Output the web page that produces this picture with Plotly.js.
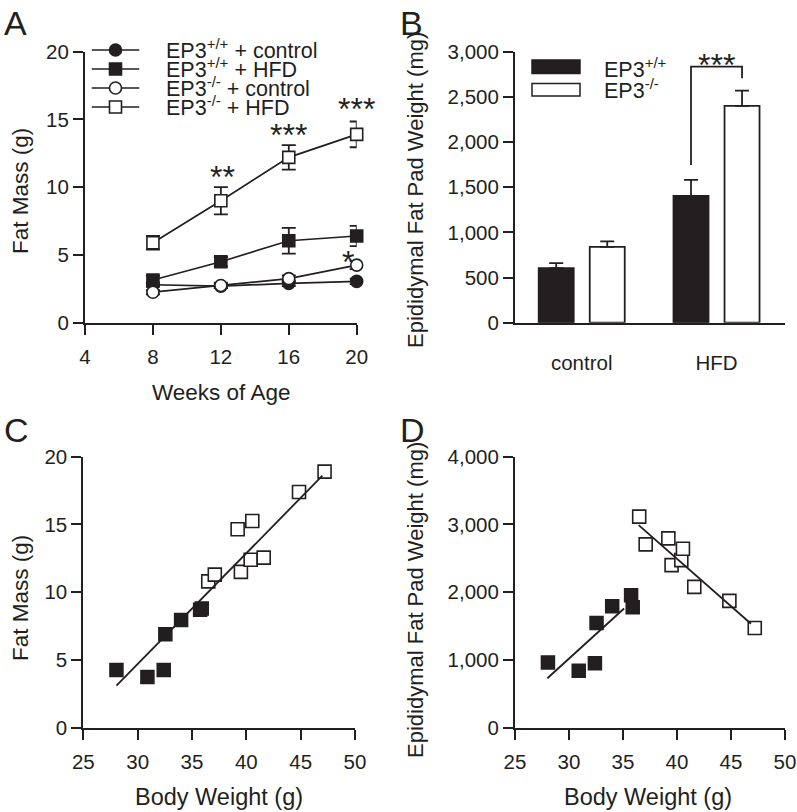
<!DOCTYPE html>
<html>
<head>
<meta charset="utf-8">
<script src="https://cdn.plot.ly/plotly-3.0.1.min.js"></script>
<style>html,body{margin:0;padding:0;background:#fff;}#chart{width:797px;height:812px;}</style>
</head>
<body>
<div id="chart"></div>
<script>
// ---------- DATA ----------
// Panel A: fat mass over age
const weeks = [8, 12, 16, 20];
const wtControl = [2.8, 2.7, 2.9, 3.05];
const wtControlErr = [0.15, 0.15, 0.2, 0.2];
const wtHFD = [3.15, 4.5, 6.05, 6.4];
const wtHFDErr = [0.3, 0.35, 0.95, 0.75];
const koControl = [2.25, 2.75, 3.25, 4.25];
const koControlErr = [0.15, 0.2, 0.25, 0.3];
const koHFD = [5.9, 9.0, 12.2, 13.9];
const koHFDErr = [0.5, 1.0, 0.9, 0.95];
const seriesNamesA = ['EP3<sup>+/+</sup> + control', 'EP3<sup>+/+</sup> + HFD', 'EP3<sup>-/-</sup> + control', 'EP3<sup>-/-</sup> + HFD'];
const sigA_x = [12.1, 16.0, 20.0, 19.5];
const sigA_y = [11.3, 14.35, 16.3, 5.0];
const sigA_text = ['**', '***', '***', '*'];
const weekTicks = [4, 8, 12, 16, 20];

// Panel B: epididymal fat pad weight
const dietGroups = ['control', 'HFD'];
const wtFatPad = [605, 1405];
const wtFatPadErr = [55, 175];
const koFatPad = [840, 2400];
const koFatPadErr = [60, 170];
const genotypeNames = ['EP3<sup>+/+</sup>', 'EP3<sup>-/-</sup>'];
const bracketB_y = [1745, 2834, 2706];
const sigB_y = 2930;

// Panels C & D: correlations with body weight (same mice)
const bodyWeightWT = [28.05, 30.9, 32.4, 32.55, 34.0, 35.75, 35.9];
const bodyWeightKO = [36.5, 37.1, 39.2, 39.5, 40.4, 40.55, 41.6, 44.85, 47.2];
const fatMassWT = [4.25, 3.75, 4.25, 6.9, 7.95, 8.7, 8.8];
const fatMassKO = [10.8, 11.3, 14.65, 11.5, 12.4, 15.25, 12.55, 17.4, 18.9];
const fatPadWT = [963, 840, 953, 1546, 1793, 1955, 1778];
const fatPadKO = [3116, 2706, 2795, 2400, 2474, 2642, 2079, 1872, 1472];
const fitC_x = [28.05, 47.0];
const fitC_y = [3.1, 18.6];
const fitD_WT_x = [28.0, 35.1];
const fitD_WT_y = [730, 1760];
const fitD_KO_x = [36.45, 46.85];
const fitD_KO_y = [2990, 1535];

// ---------- STYLE / LAYOUT HELPERS ----------
const W = 797, H = 812;
const INK = '#231f20';
const FONT = 'Liberation Sans, Arial, Helvetica, sans-serif';
const TICK_SIZE = 20.5, TITLE_SIZE = 22.5, LEGEND_SIZE = 21.5, STAR_SIZE = 32, LETTER_SIZE = 34;
const px = v => v / W;
const py = v => 1 - v / H;

const axisBase = {
  showline: true, linewidth: 2, linecolor: INK,
  ticks: 'outside', ticklen: 10, tickwidth: 2, tickcolor: INK,
  showgrid: false, zeroline: false, fixedrange: true,
  tickfont: {family: FONT, size: TICK_SIZE, color: INK}
};
function ax(extra) { return Object.assign({}, axisBase, extra); }

const traces = [];
const errStyle = {color: INK, thickness: 1.8, width: 7};

// Panel A traces
const fillA = [INK, INK, '#ffffff', '#ffffff'];
const valsA = [wtControl, wtHFD, koControl, koHFD];
const errsA = [wtControlErr, wtHFDErr, koControlErr, koHFDErr];
for (let i = 0; i < 4; i++) {
  traces.push({
    type: 'scatter', mode: 'lines+markers', x: weeks, y: valsA[i],
    xaxis: 'x', yaxis: 'y', cliponaxis: false, showlegend: false,
    line: {color: INK, width: 1.7},
    marker: {symbol: (i % 2 === 0) ? 'circle' : 'square', size: 12, color: fillA[i], line: {color: INK, width: 1.6}},
    error_y: Object.assign({type: 'data', array: errsA[i], visible: true}, errStyle)
  });
}
// Legend glyphs for panel A (overlay axes x5/y5)
for (let i = 0; i < 4; i++) {
  traces.push({type: 'scatter', mode: 'lines', x: [0, 1], y: [i + 1, i + 1], xaxis: 'x5', yaxis: 'y5',
    showlegend: false, cliponaxis: false, line: {color: INK, width: 1.7}, hoverinfo: 'skip'});
  traces.push({type: 'scatter', mode: 'markers', x: [0.5], y: [i + 1], xaxis: 'x5', yaxis: 'y5',
    showlegend: false, cliponaxis: false, hoverinfo: 'skip',
    marker: {symbol: (i % 2 === 0) ? 'circle' : 'square', size: 12, color: fillA[i], line: {color: INK, width: 1.6}}});
}

// Panel B bars
traces.push({type: 'bar', x: dietGroups, y: wtFatPad, xaxis: 'x2', yaxis: 'y2', showlegend: false,
  marker: {color: INK, line: {color: INK, width: 1.8}},
  error_y: Object.assign({type: 'data', array: wtFatPadErr, arrayminus: [0, 0], symmetric: false, visible: true}, errStyle)});
traces.push({type: 'bar', x: dietGroups, y: koFatPad, xaxis: 'x2', yaxis: 'y2', showlegend: false,
  marker: {color: '#ffffff', line: {color: INK, width: 1.8}},
  error_y: Object.assign({type: 'data', array: koFatPadErr, arrayminus: [0, 0], symmetric: false, visible: true}, errStyle)});

// Panel C
traces.push({type: 'scatter', mode: 'markers', x: bodyWeightWT, y: fatMassWT, xaxis: 'x3', yaxis: 'y3', showlegend: false, cliponaxis: false,
  marker: {symbol: 'square', size: 13, color: INK, line: {color: INK, width: 1.5}}});
traces.push({type: 'scatter', mode: 'markers', x: bodyWeightKO, y: fatMassKO, xaxis: 'x3', yaxis: 'y3', showlegend: false, cliponaxis: false,
  marker: {symbol: 'square', size: 13, color: '#ffffff', line: {color: INK, width: 1.6}}});
traces.push({type: 'scatter', mode: 'lines', x: fitC_x, y: fitC_y, xaxis: 'x3', yaxis: 'y3', showlegend: false,
  line: {color: INK, width: 1.8}});

// Panel D
traces.push({type: 'scatter', mode: 'markers', x: bodyWeightWT, y: fatPadWT, xaxis: 'x4', yaxis: 'y4', showlegend: false, cliponaxis: false,
  marker: {symbol: 'square', size: 13, color: INK, line: {color: INK, width: 1.5}}});
traces.push({type: 'scatter', mode: 'markers', x: bodyWeightKO, y: fatPadKO, xaxis: 'x4', yaxis: 'y4', showlegend: false, cliponaxis: false,
  marker: {symbol: 'square', size: 13, color: '#ffffff', line: {color: INK, width: 1.6}}});
traces.push({type: 'scatter', mode: 'lines', x: fitD_WT_x, y: fitD_WT_y, xaxis: 'x4', yaxis: 'y4', showlegend: false,
  line: {color: INK, width: 1.8}});
traces.push({type: 'scatter', mode: 'lines', x: fitD_KO_x, y: fitD_KO_y, xaxis: 'x4', yaxis: 'y4', showlegend: false,
  line: {color: INK, width: 1.8}});

// Bar geometry (for bracket)
const bargap = 0.243, bargroupgap = 0.314;
const slot = (1 - bargap) / 2;
const barOffset = slot / 2;

const annotations = [];
function txt(x, y, text, size, opts) {
  annotations.push(Object.assign({x: x, y: y, xref: 'paper', yref: 'paper', text: text, showarrow: false,
    font: {family: FONT, size: size, color: INK}, xanchor: 'center', yanchor: 'middle'}, opts || {}));
}
// panel letters
txt(px(2), py(2), 'A', LETTER_SIZE, {xanchor: 'left', yanchor: 'top'});
txt(px(398), py(2), 'B', LETTER_SIZE, {xanchor: 'left', yanchor: 'top'});
txt(px(2), py(409), 'C', LETTER_SIZE, {xanchor: 'left', yanchor: 'top'});
txt(px(398), py(409), 'D', LETTER_SIZE, {xanchor: 'left', yanchor: 'top'});
// axis titles
txt(px(20), py(191), 'Fat Mass (g)', TITLE_SIZE, {textangle: -90});
txt(px(221), py(392), 'Weeks of Age', TITLE_SIZE);
txt(px(415), py(190), 'Epididymal Fat Pad Weight (mg)', 22, {textangle: -90});
txt(px(20), py(598), 'Fat Mass (g)', TITLE_SIZE, {textangle: -90});
txt(px(219), py(797), 'Body Weight (g)', 23.5);
txt(px(415), py(600), 'Epididymal Fat Pad Weight (mg)', 22, {textangle: -90});
txt(px(648), py(797), 'Body Weight (g)', 23.5);
// Legend A text
for (let i = 0; i < 4; i++) {
  txt(px(164), py(49 + i * 19), seriesNamesA[i], LEGEND_SIZE, {xanchor: 'left'});
}
// Legend B text
txt(px(602), py(68), genotypeNames[0], LEGEND_SIZE, {xanchor: 'left'});
txt(px(602), py(89), genotypeNames[1], LEGEND_SIZE, {xanchor: 'left'});
// significance stars
for (let i = 0; i < sigA_text.length; i++) {
  annotations.push({x: sigA_x[i], y: sigA_y[i], xref: 'x', yref: 'y', text: sigA_text[i], showarrow: false,
    font: {family: FONT, size: STAR_SIZE, color: INK}, xanchor: 'center', yanchor: 'middle', yshift: -7});
}
annotations.push({x: 1, y: sigB_y, xref: 'x2', yref: 'y2', text: '***', showarrow: false,
  font: {family: FONT, size: STAR_SIZE, color: INK}, xanchor: 'center', yanchor: 'middle', yshift: -7});

const shapes = [
  // legend B swatches
  {type: 'rect', xref: 'paper', yref: 'paper', x0: px(532), x1: px(580), y0: py(60), y1: py(73.5), fillcolor: INK, line: {color: INK, width: 1.5}},
  {type: 'rect', xref: 'paper', yref: 'paper', x0: px(532), x1: px(580), y0: py(83.5), y1: py(96), fillcolor: '#ffffff', line: {color: INK, width: 1.5}},
  // significance bracket B
  {type: 'path', xref: 'x2', yref: 'y2',
   path: 'M' + (1 - barOffset) + ',' + bracketB_y[0] + ' L' + (1 - barOffset) + ',' + bracketB_y[1] +
         ' L' + (1 + barOffset) + ',' + bracketB_y[1] + ' L' + (1 + barOffset) + ',' + bracketB_y[2],
   line: {color: INK, width: 1.8}}
];

const yTopRow = [py(322.7), py(51.7)];
const yBotRow = [py(727.7), py(456.7)];

const layout = {
  width: W, height: H, margin: {l: 0, r: 0, t: 0, b: 0},
  paper_bgcolor: '#ffffff', plot_bgcolor: 'rgba(0,0,0,0)',
  showlegend: false, barmode: 'group', bargap: bargap, bargroupgap: bargroupgap,
  font: {family: FONT, color: INK},
  xaxis: ax({domain: [px(85), px(356.7)], range: [4, 20], tickvals: weekTicks, anchor: 'y', ticklabelstandoff: 5}),
  yaxis: ax({domain: yTopRow, range: [0, 20], dtick: 5, anchor: 'x'}),
  xaxis2: ax({domain: [px(515), px(785)], type: 'category', range: [-0.495, 1.508], anchor: 'y2', ticks: '', ticklabelstandoff: 21}),
  yaxis2: ax({domain: yTopRow, range: [0, 3000], dtick: 500, tickformat: ',', anchor: 'x2'}),
  xaxis3: ax({domain: [px(83.3), px(355)], range: [25, 50], dtick: 5, anchor: 'y3', ticklabelstandoff: 5}),
  yaxis3: ax({domain: yBotRow, range: [0, 20], dtick: 5, anchor: 'x3'}),
  xaxis4: ax({domain: [px(515), px(785)], range: [25, 50], dtick: 5, anchor: 'y4', ticklabelstandoff: 5}),
  yaxis4: ax({domain: yBotRow, range: [0, 4000], dtick: 1000, tickformat: ',', anchor: 'x4'}),
  xaxis5: {domain: [px(91.5), px(139.5)], range: [0, 1], visible: false, fixedrange: true, anchor: 'y5'},
  yaxis5: {domain: [py(116.5), py(40.5)], range: [4.5, 0.5], visible: false, fixedrange: true, anchor: 'x5'},
  annotations: annotations,
  shapes: shapes
};

Plotly.newPlot('chart', traces, layout, {staticPlot: true, displayModeBar: false});
</script>
</body>
</html>
